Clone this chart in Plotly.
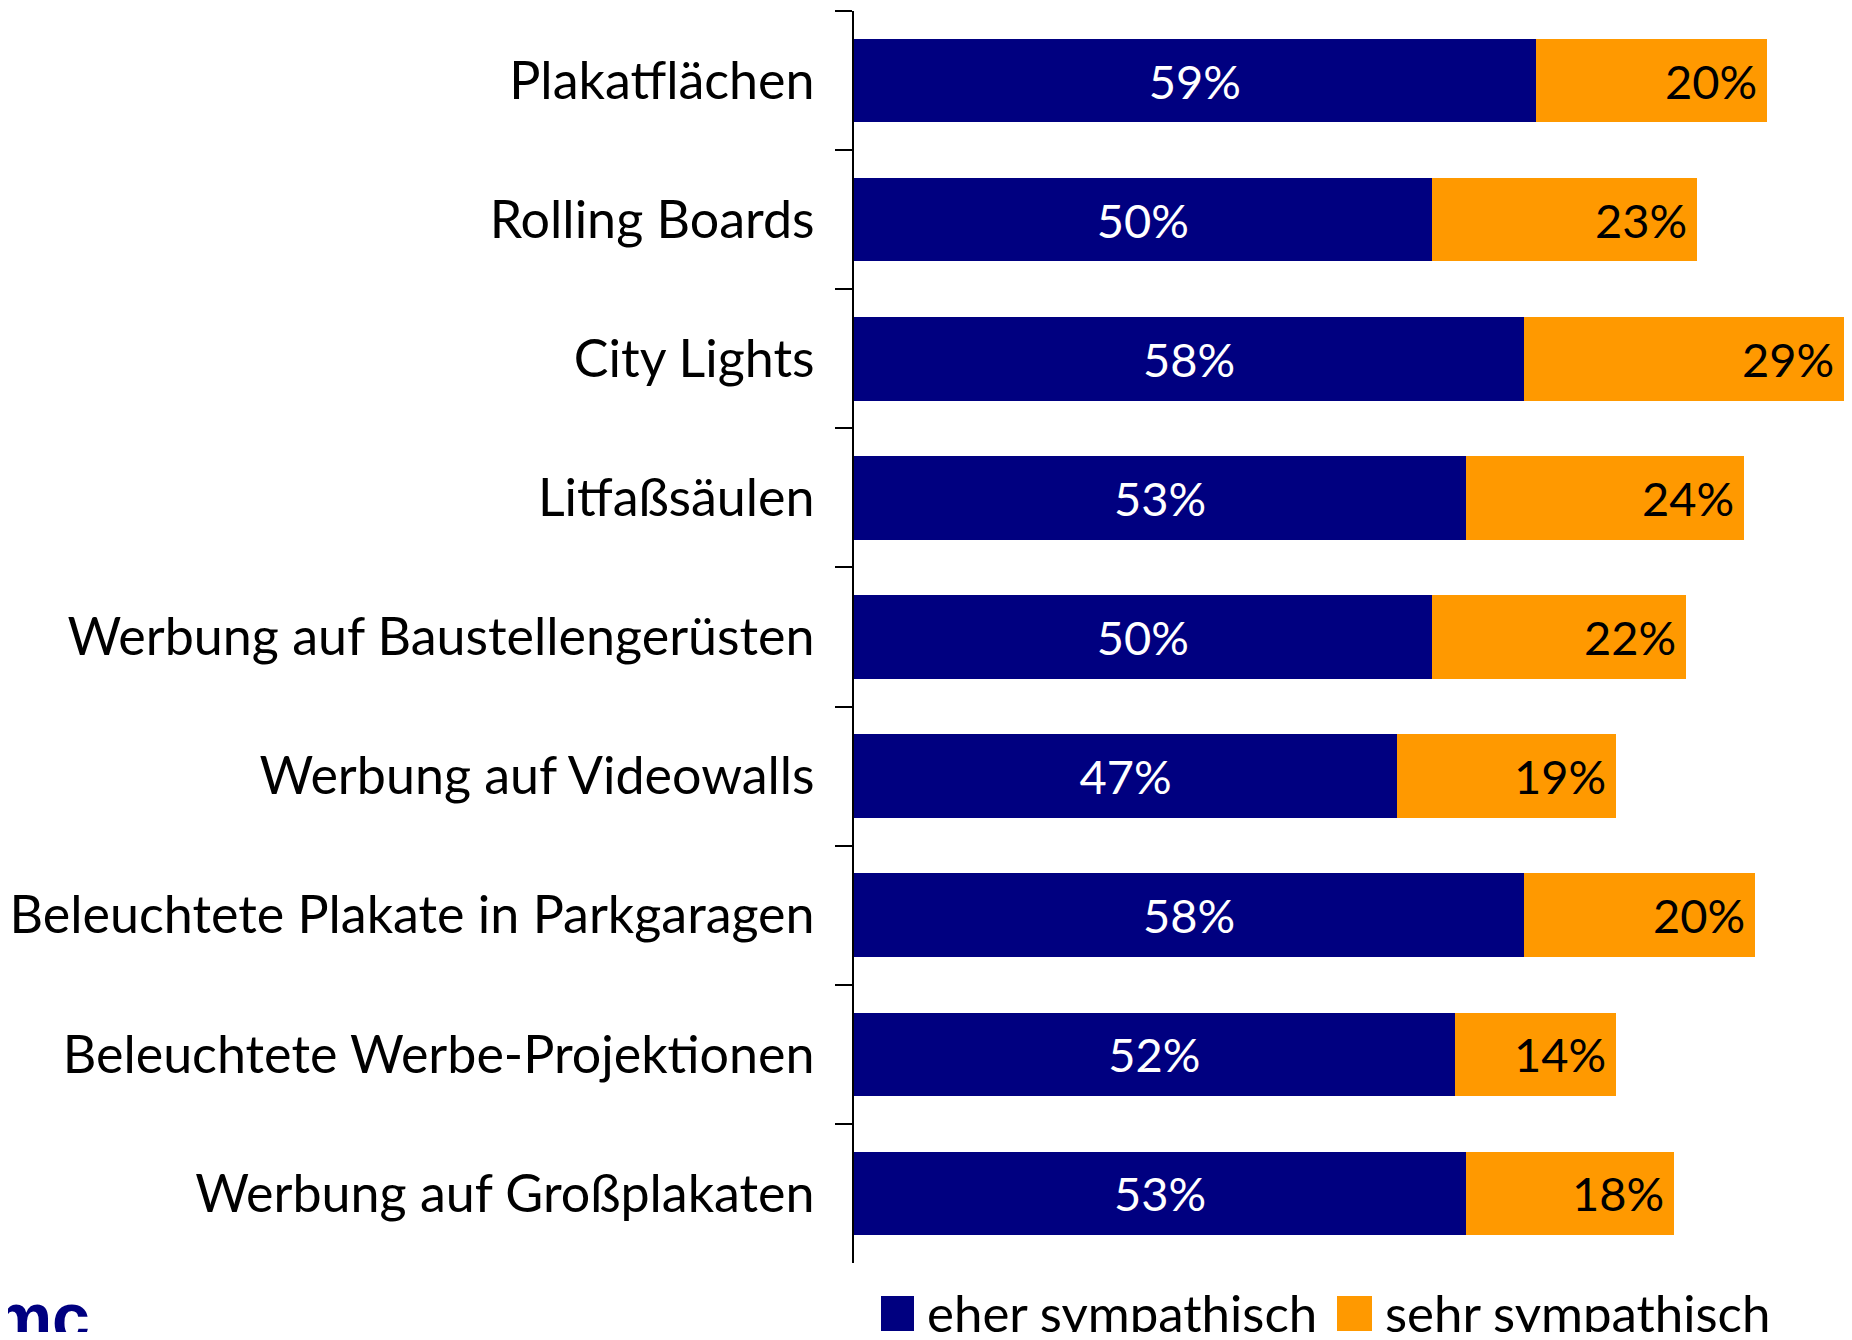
import plotly.graph_objects as go

categories = [
    "Plakatflächen",
    "Rolling Boards",
    "City Lights",
    "Litfaßsäulen",
    "Werbung auf Baustellengerüsten",
    "Werbung auf Videowalls",
    "Beleuchtete Plakate in Parkgaragen",
    "Beleuchtete Werbe-Projektionen",
    "Werbung auf Großplakaten",
]
eher = [59, 50, 58, 53, 50, 47, 58, 52, 53]
sehr = [20, 23, 29, 24, 22, 19, 20, 14, 18]
series_names = ["eher sympathisch", "sehr sympathisch"]

NAVY = "#000080"
ORANGE = "#FF9900"
FONT = "Lato, 'Open Sans', 'Noto Sans', sans-serif"
FS_TICK = 52
FS_VAL = 47
FS_LEG = 51

# the page body has an 8px margin, so the figure is sized to fit without overflow
W, H = 1836, 1324
ML, MR, MT, MB = 846, 0, 3, 69
XMAX = 85.7

fig = go.Figure()
fig.add_trace(go.Bar(
    y=categories, x=eher, orientation="h", name=series_names[0],
    marker=dict(color=NAVY, line=dict(width=0)),
    text=[f"{v}%" for v in eher], textposition="inside",
    insidetextanchor="middle",
    textfont=dict(color="white", size=FS_VAL, family=FONT),
    showlegend=False,
))
fig.add_trace(go.Bar(
    y=categories, x=sehr, orientation="h", name=series_names[1],
    marker=dict(color=ORANGE, line=dict(width=0)),
    showlegend=False,
))

def pxx(px):
    return (px - ML) / (W - ML - MR)

def pyy(py):
    return (H - MB - py) / (H - MT - MB)

annotations = []
# labels for the orange segments, right-aligned at the segment end (kept inside the visible area)
for cat, e, s in zip(categories, eher, sehr):
    annotations.append(dict(
        text=f"{s}%", x=min(e + s, XMAX), y=cat, xref="x", yref="y",
        xanchor="right", yanchor="middle", xshift=-8, showarrow=False,
        font=dict(size=FS_VAL, family=FONT, color="black"),
    ))

annotations += [
    dict(text=series_names[0],
         x=pxx(917), y=pyy(1304), xref="paper", yref="paper",
         xanchor="left", yanchor="middle", showarrow=False,
         font=dict(size=FS_LEG, family=FONT, color="black")),
    dict(text=series_names[1],
         x=pxx(1375), y=pyy(1304), xref="paper", yref="paper",
         xanchor="left", yanchor="middle", showarrow=False,
         font=dict(size=FS_LEG, family=FONT, color="black")),
    dict(text="<b>tmc</b>",
         x=pxx(84), y=pyy(1269), xref="paper", yref="paper",
         xanchor="right", yanchor="top", showarrow=False,
         font=dict(size=68, family="'Liberation Sans Narrow', 'Liberation Sans', sans-serif", color=NAVY)),
]

shapes = [
    dict(type="rect", xref="paper", yref="paper",
         x0=pxx(873), x1=pxx(906), y0=pyy(1323), y1=pyy(1288),
         fillcolor=NAVY, line=dict(width=0)),
    dict(type="rect", xref="paper", yref="paper",
         x0=pxx(1329), x1=pxx(1364), y0=pyy(1323), y1=pyy(1288),
         fillcolor=ORANGE, line=dict(width=0)),
]

fig.update_layout(
    width=W, height=H,
    barmode="stack", bargap=0.4,
    margin=dict(l=ML, r=MR, t=MT, b=MB, pad=0),
    paper_bgcolor="white", plot_bgcolor="white",
    font=dict(family=FONT, size=FS_TICK, color="black"),
    showlegend=False,
    annotations=annotations,
    shapes=shapes,
)
fig.update_xaxes(visible=False, range=[0, XMAX], fixedrange=True)
fig.update_yaxes(
    categoryorder="array", categoryarray=categories, autorange="reversed",
    showline=True, linecolor="black", linewidth=2,
    ticks="outside", tickson="boundaries", ticklen=17, tickwidth=2, tickcolor="black",
    tickfont=dict(size=FS_TICK, family=FONT, color="black"),
    ticklabelstandoff=27,
    showgrid=False, zeroline=False,
)

fig.write_html("out.html")
